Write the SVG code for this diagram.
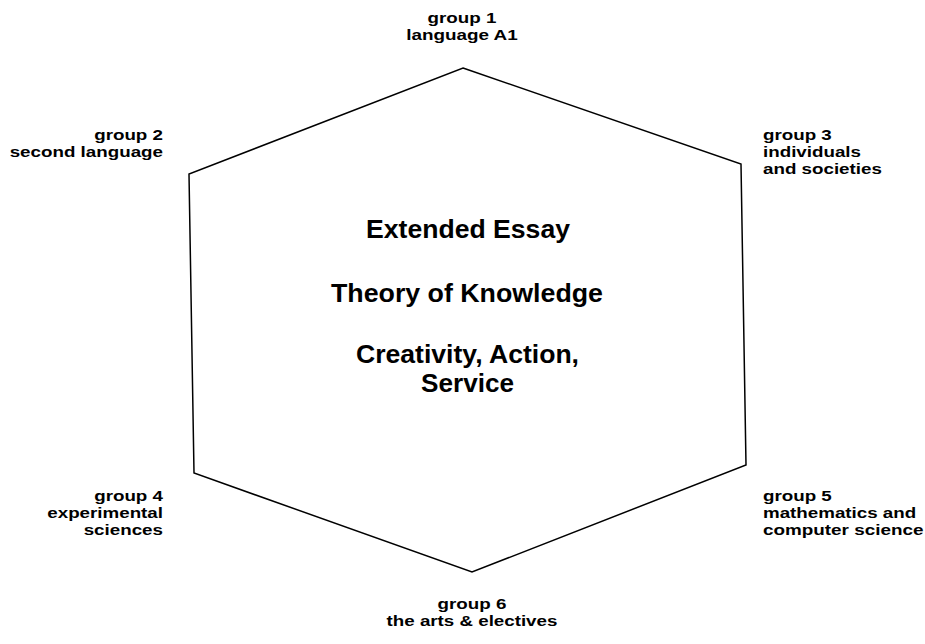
<svg xmlns="http://www.w3.org/2000/svg" width="925" height="644" viewBox="0 0 925 644">
<style>
.lbl{font-family:"Liberation Sans",Arial,sans-serif;font-weight:bold;font-size:15px;fill:#000}
.ctr{font-family:"Liberation Sans",Arial,sans-serif;font-weight:bold;font-size:25px;fill:#000;text-anchor:middle}
.hex{fill:none;stroke:#000;stroke-width:1.5;stroke-linejoin:miter}
</style>
<rect width="925" height="644" fill="#fff"/>
<g id="connectors">
<polygon class="hex" points="463,68 741,164 746,465 472,572 194,473 189,174"/>
</g>
<g id="core">
<text class="ctr" x="468" y="238" textLength="204" lengthAdjust="spacingAndGlyphs">Extended Essay</text>
<text class="ctr" x="467" y="302" textLength="272" lengthAdjust="spacingAndGlyphs">Theory of Knowledge</text>
<text class="ctr" x="467.5" y="363" textLength="223" lengthAdjust="spacingAndGlyphs">Creativity, Action,</text>
<text class="ctr" x="467.5" y="392" textLength="93" lengthAdjust="spacingAndGlyphs">Service</text>
</g>
<g id="group1" text-anchor="middle">
<text class="lbl" x="462" y="23" textLength="68.8" lengthAdjust="spacingAndGlyphs">group 1</text>
<text class="lbl" x="462" y="40" textLength="111.5" lengthAdjust="spacingAndGlyphs">language A1</text>
</g>
<g id="group2" text-anchor="end">
<text class="lbl" x="163" y="140" textLength="68.8" lengthAdjust="spacingAndGlyphs">group 2</text>
<text class="lbl" x="163" y="157" textLength="153.3" lengthAdjust="spacingAndGlyphs">second language</text>
</g>
<g id="group3">
<text class="lbl" x="763" y="140" textLength="68.8" lengthAdjust="spacingAndGlyphs">group 3</text>
<text class="lbl" x="763" y="157" textLength="98" lengthAdjust="spacingAndGlyphs">individuals</text>
<text class="lbl" x="763" y="174" textLength="118.9" lengthAdjust="spacingAndGlyphs">and societies</text>
</g>
<g id="group4" text-anchor="end">
<text class="lbl" x="163" y="501" textLength="68.8" lengthAdjust="spacingAndGlyphs">group 4</text>
<text class="lbl" x="163" y="518" textLength="115.7" lengthAdjust="spacingAndGlyphs">experimental</text>
<text class="lbl" x="163" y="535" textLength="79.3" lengthAdjust="spacingAndGlyphs">sciences</text>
</g>
<g id="group5">
<text class="lbl" x="763" y="501" textLength="68.8" lengthAdjust="spacingAndGlyphs">group 5</text>
<text class="lbl" x="763" y="518" textLength="153.2" lengthAdjust="spacingAndGlyphs">mathematics and</text>
<text class="lbl" x="763" y="535" textLength="160.4" lengthAdjust="spacingAndGlyphs">computer science</text>
</g>
<g id="group6" text-anchor="middle">
<text class="lbl" x="472" y="609" textLength="68.8" lengthAdjust="spacingAndGlyphs">group 6</text>
<text class="lbl" x="472" y="626" textLength="170.8" lengthAdjust="spacingAndGlyphs">the arts &amp; electives</text>
</g>
</svg>
